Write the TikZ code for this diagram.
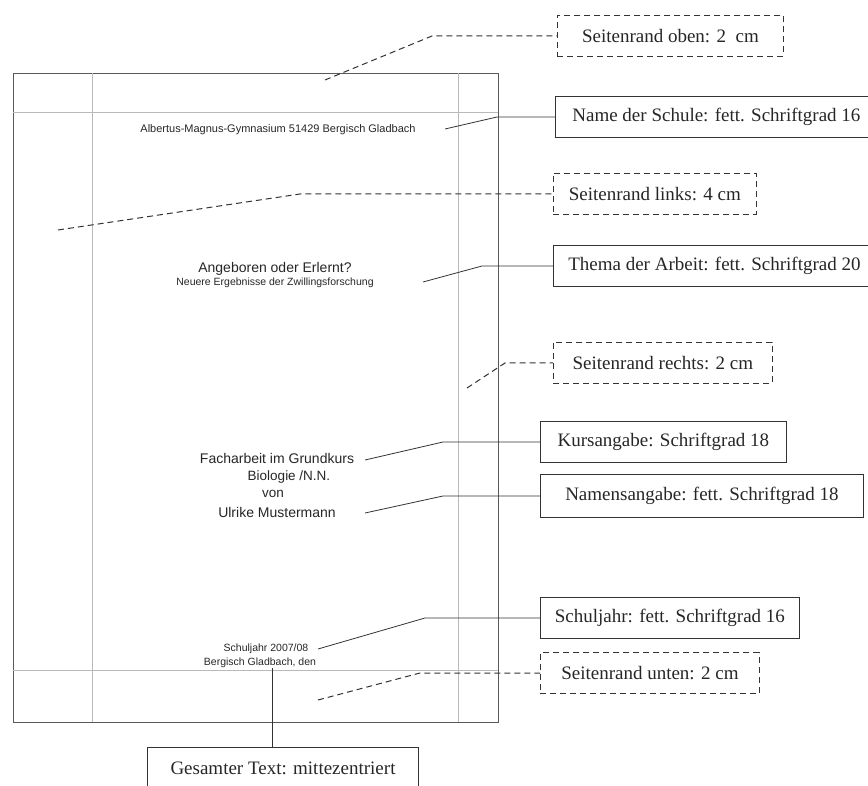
\documentclass[tikz,border=0pt]{standalone}
\usepackage{fontspec}
\setmainfont{Liberation Serif}
\newfontfamily\pagefont{Liberation Sans}

\begin{document}
\begin{tikzpicture}[x=1pt, y=-1pt, every node/.style={inner sep=0pt},
	ptext/.style={font=\pagefont\fontsize{#1}{#1}\selectfont, text=black!85},
	note/.style={draw=black!80, line width=0.8pt, anchor=west, minimum height=41pt, font=\fontsize{19}{21}\selectfont, text=black!85},
	marg/.style={note, dash pattern=on 6pt off 4pt},
	lead/.style={black!80, line width=0.8pt},
	leaddash/.style={lead, line width=1pt, dash pattern=on 6pt off 4pt},
	side/.style={gray!55, line width=0.6pt}]
	\useasboundingbox (0,0) rectangle (868,786);
	% Seite mit Seitenraendern
	\draw[gray!70!black, line width=0.9pt] (13,73) rectangle (498,722);
	\draw[side] (13,112) -- (498,112);
	\draw[side] (13,670) -- (498,670);
	\draw[side] (92,73) -- (92,722);
	\draw[side] (458,73) -- (458,722);
	% Text auf dem Deckblatt
	\node[ptext=11] (t-schule) at (278,130) {Albertus-Magnus-Gymnasium 51429 Bergisch Gladbach};
	\node[ptext=14] (t-thema) at (275,269) {Angeboren oder Erlernt?};
	\node[ptext=10.5] (t-unter) at (275,283) {Neuere Ergebnisse der Zwillingsforschung};
	\node[ptext=14] (t-kurs) at (277,458) {Facharbeit im Grundkurs};
	\node[ptext=13.5] (t-bio) at (289,477) {Biologie /N.N.};
	\node[ptext=13.5] (t-von) at (273,494) {von};
	\node[ptext=14] (t-name) at (277,512) {Ulrike Mustermann};
	\node[ptext=10.5] (t-jahr) at (266,649) {Schuljahr 2007/08};
	\node[ptext=10.5] (t-ort) at (260,663) {Bergisch Gladbach, den};
	% Erklaerungen
	\node[marg, minimum width=226pt] (b-oben) at (557,36) {Seitenrand oben: 2\ \ cm};
	\node[note, minimum width=322pt] (b-schule) at (555,117) {Name der Schule: fett. Schriftgrad 16};
	\node[marg, minimum width=203pt] (b-links) at (553,194) {Seitenrand links: 4 cm};
	\node[note, minimum width=322pt] (b-thema) at (553,266) {Thema der Arbeit: fett. Schriftgrad 20};
	\node[marg, minimum width=219pt] (b-rechts) at (553,363) {Seitenrand rechts: 2 cm};
	\node[note, minimum width=246pt] (b-kurs) at (540,442) {Kursangabe: Schriftgrad 18};
	\node[note, minimum width=323pt, minimum height=43pt] (b-namen) at (540,496) {Namensangabe: fett. Schriftgrad 18};
	\node[note, minimum width=259pt] (b-jahr) at (540,618) {Schuljahr: fett. Schriftgrad 16};
	\node[marg, minimum width=219pt] (b-unten) at (540,673) {Seitenrand unten: 2 cm};
	\node[note, anchor=north, minimum width=271pt] (b-gesamt) at (283,747) {Gesamter Text: mittezentriert};
	% Anfangspunkte der Linien
	\coordinate (a-oben) at (325,80);
	\coordinate (a-schule) at (445,129);
	\coordinate (a-links) at (58,230);
	\coordinate (a-thema) at (423,282);
	\coordinate (a-rechts) at (467,388);
	\coordinate (a-kurs) at (365,460);
	\coordinate (a-namen) at (365,513);
	\coordinate (a-jahr) at (318,649);
	\coordinate (a-unten) at (318,700);
	\coordinate (a-gesamt) at (272,668);
	\foreach \n/\b/\s in {oben/432/leaddash, schule/497/lead, links/300/leaddash, thema/482/lead, rechts/505/leaddash, kurs/443/lead, namen/443/lead, jahr/425/lead, unten/420/leaddash} {
		\draw[\s] (a-\n) -- (\b,0 |- b-\n.west) -- (b-\n.west);
	}
	\draw[lead] (a-gesamt) -- (a-gesamt |- b-gesamt.north);
\end{tikzpicture}
\end{document}
